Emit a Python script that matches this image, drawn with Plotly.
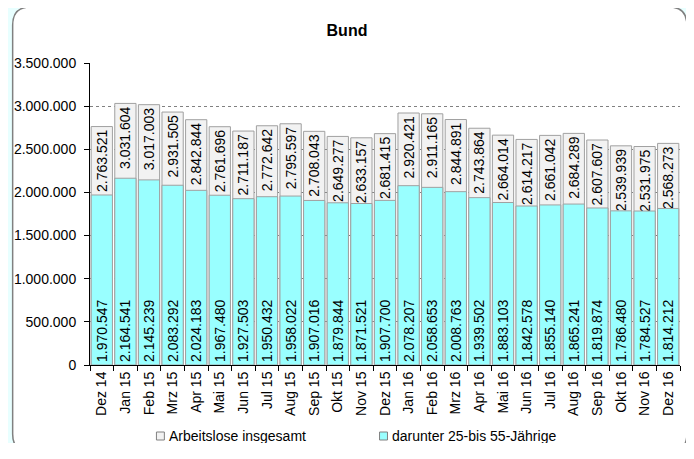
import plotly.graph_objects as go

monate = ['Dez 14', 'Jan 15', 'Feb 15', 'Mrz 15', 'Apr 15', 'Mai 15', 'Jun 15', 'Jul 15',
          'Aug 15', 'Sep 15', 'Okt 15', 'Nov 15', 'Dez 15', 'Jan 16', 'Feb 16', 'Mrz 16',
          'Apr 16', 'Mai 16', 'Jun 16', 'Jul 16', 'Aug 16', 'Sep 16', 'Okt 16', 'Nov 16', 'Dez 16']

insgesamt = [2763521, 3031604, 3017003, 2931505, 2842844, 2761696, 2711187, 2772642,
             2795597, 2708043, 2649277, 2633157, 2681415, 2920421, 2911165, 2844891,
             2743864, 2664014, 2614217, 2661042, 2684289, 2607607, 2539939, 2531975, 2568273]

kern_alter = [1970547, 2164541, 2145239, 2083292, 2024183, 1967480, 1927503, 1950432,
              1958022, 1907016, 1879844, 1871521, 1907700, 2078207, 2058653, 2008763,
              1939502, 1883103, 1842578, 1855140, 1865241, 1819874, 1786480, 1784527, 1814212]

serien = ['Arbeitslose insgesamt', 'darunter 25-bis 55-Jährige']
farben = ['#F2F2F2', '#99FFFF']

y_ticks = [0, 500000, 1000000, 1500000, 2000000, 2500000, 3000000, 3500000]

FONT = 'Liberation Sans, Arial, sans-serif'
W, H = 678, 435
L, R, T, B = 77, 6, 55, 78
PW, PH = W - L - R, H - T - B


def fmt(v):
    return f"{v:,}".replace(',', '.')


def px_x(x):
    return (x - L) / PW


def px_y(y):
    return (H - B - y) / PH


fig = go.Figure()

for werte, name, farbe, anker in [(insgesamt, serien[0], farben[0], 'end'),
                                   (kern_alter, serien[1], farben[1], 'start')]:
    fig.add_trace(go.Bar(
        x=monate, y=werte, name=name,
        marker=dict(color=farbe, line=dict(color='#A0A0A0', width=1)),
        text=[fmt(v) for v in werte], textposition='inside', insidetextanchor=anker,
        textangle=-90, textfont=dict(family=FONT, size=14, color='black'),
        constraintext='none'
    ))

# weisse Karte mit runden Ecken
x0, x1, y0, y1 = px_x(-1), px_x(679), px_y(444), px_y(-1)
rx, ry = 0.03, 0.06
fig.add_shape(type='path', xref='paper', yref='paper', layer='below',
              path=(f'M {x0},{y1 - ry} Q {x0},{y1} {x0 + rx},{y1} L {x1 - rx},{y1} '
                    f'Q {x1},{y1} {x1},{y1 - ry} L {x1},{y0 + ry} Q {x1},{y0} {x1 - rx},{y0} '
                    f'L {x0 + rx},{y0} Q {x0},{y0} {x0},{y0 + ry} Z'),
              fillcolor='white', line=dict(color='#808080', width=1.5))

# Legende unten (kleine Quadrate wie im Original)
for sx, name, farbe in [(144, serien[0], farben[0]), (369, serien[1], farben[1])]:
    fig.add_shape(type='rect', xref='paper', yref='paper',
                  x0=px_x(sx), x1=px_x(sx + 8), y0=px_y(432), y1=px_y(424),
                  fillcolor=farbe, line=dict(color='#808080', width=1))
    fig.add_annotation(text=name, xref='paper', yref='paper', x=px_x(sx + 11), y=px_y(428),
                       xanchor='left', yanchor='middle', showarrow=False,
                       font=dict(family=FONT, size=14, color='black'))

fig.update_layout(
    width=W, height=H,
    barmode='overlay', bargap=0.1,
    separators=',.',
    paper_bgcolor='#E8FFFF', plot_bgcolor='#FFFFCC',
    font=dict(family=FONT, size=14, color='black'),
    title=dict(text='<b>Bund</b>', x=0.5, xanchor='center', y=1 - 22 / H, yanchor='middle',
               font=dict(family=FONT, size=16)),
    margin=dict(l=L, r=R, t=T, b=B),
    showlegend=False,
    xaxis=dict(showline=True, linecolor='black', ticks='outside', tickson='boundaries',
               ticklen=5, tickcolor='black', tickangle=-90, showgrid=False,
               tickfont=dict(size=14)),
    yaxis=dict(range=[0, 3500000], tickvals=y_ticks, tickformat=',d',
               showline=True, linecolor='black', ticks='outside', ticklen=5,
               ticklabelstandoff=5,
               tickcolor='black', showgrid=True, gridcolor='#808080', griddash='dot',
               gridwidth=1, zeroline=False, tickfont=dict(size=14)),
)

fig.write_html("out.html")
